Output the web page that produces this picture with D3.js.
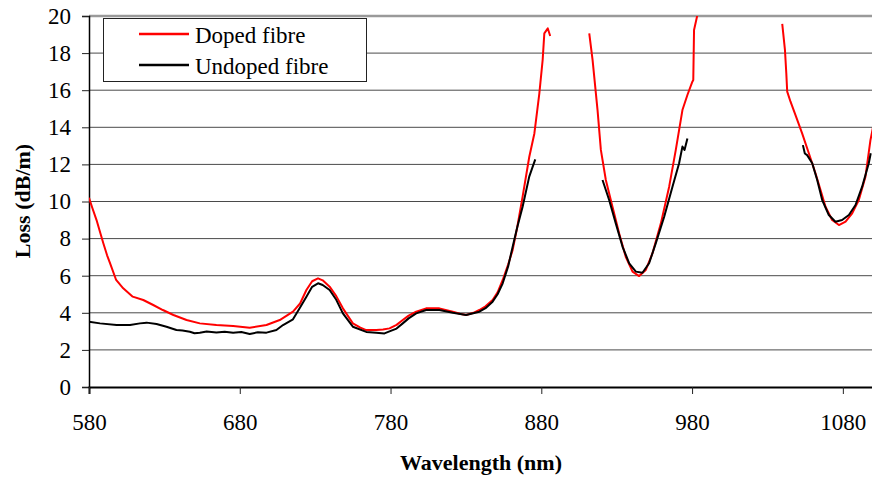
<!DOCTYPE html>
<html>
<head>
<meta charset="utf-8">
<script src="https://cdn.jsdelivr.net/npm/d3@7"></script>
<style>
  body { margin: 0; background: #fff; }
  svg text { font-family: "Liberation Serif", "Times New Roman", Times, serif !important; }
</style>
</head>
<body>
<div id="chart-area"></div>
<script>
// DATA (null = gap in the measured trace)
const dopedWl = [580, 582, 585, 587.5, 589.5, 592, 594, 598, 602.7, 609, 616, 622.6, 629, 636, 644.7, 653.5,
  664.5, 675.6, 686.6, 697.7, 706.5, 715.3, 720, 724.2, 728, 731.9, 735, 739.6, 744, 748.4, 755, 760,
  763.9, 770.5, 775, 779.3, 784, 788.1, 792, 797, 803.6, 812.4, 821.3, 826, 830.1, 835, 838.9, 843,
  847.7, 851, 854.4, 858, 861, 864, 867.6, 872, 875.4, 878.7, 880.9, 882, 884.3, 885.9,
  null,
  911.8, 914, 917.3, 919.5, 922.8, 927.2, 931.6, 936, 940.5, 944.9, 949.3, 953.7, 959.3, 964.8, 969.2,
  973.6, 976.9, 980.2, 980.8, 981.3, 983.5, 985,
  null,
  1039.8, 1041.6, 1042.5, 1043.1, 1045.3, 1048.6, 1053, 1057.5, 1061.9, 1065.2, 1068.5, 1072.9, 1077.4,
  1081.8, 1086.2, 1090.6, 1095, 1098.3, 1100]
const dopedLoss = [10.2, 9.7, 9.0, 8.3, 7.75, 7.1, 6.67, 5.77, 5.32, 4.87, 4.69, 4.42, 4.15, 3.88, 3.61, 3.43,
  3.34, 3.29, 3.2, 3.34, 3.61, 4.06, 4.5, 5.23, 5.7, 5.86, 5.75, 5.41, 4.9, 4.24, 3.43, 3.2,
  3.07, 3.07, 3.1, 3.16, 3.35, 3.61, 3.85, 4.06, 4.24, 4.24, 4.06, 3.95, 3.88, 4.0, 4.15, 4.35,
  4.69, 5.1, 5.77, 6.6, 7.39, 8.6, 10.26, 12.4, 13.67, 15.83, 17.63, 19.06, 19.33, 18.92,
  null,
  19.06, 17.63, 14.93, 12.78, 11.16, 9.72, 8.29, 7.02, 6.22, 5.98, 6.31, 7.2, 8.82, 10.8, 12.78,
  14.93, 15.74, 16.46, 16.55, 19.25, 20.05, 21,
  null,
  19.57, 18.17, 16.91, 15.92, 15.38, 14.66, 13.67, 12.59, 11.51, 10.62, 9.72, 9.0, 8.73,
  8.91, 9.36, 10.08, 11.34, 13.31, 14.0]

const undopedWl = [580, 587.3, 598.3, 607.2, 613.8, 618.2, 624.8, 631.4, 638, 642, 646.9, 650, 653.5, 658, 664.5,
  670, 675.6, 681, 686.6, 692, 697.7, 704.3, 708.7, 715.3, 719.7, 724.2, 728, 731.9, 735, 739.6, 744,
  748.4, 755, 763.9, 770.5, 776, 779.3, 784, 788.1, 792, 797, 803.6, 812.4, 821.3, 830.1, 838.9, 843,
  847.7, 851, 854.4, 858, 861, 864, 867.6, 872, 874.3, 876,
  null,
  920.6, 925, 929.4, 933.9, 938.3, 942.7, 947.1, 951.5, 955.9, 961.5, 967, 971.4, 973.6, 975, 976.9,
  null,
  1053.5, 1054.8, 1056.3, 1059.7, 1063, 1066.3, 1070.7, 1075.1, 1079.5, 1084, 1088.4, 1092.8, 1097.2, 1098.5]
const undopedLoss = [3.52, 3.43, 3.34, 3.34, 3.43, 3.47, 3.40, 3.25, 3.07, 3.05, 2.98, 2.9, 2.93, 2.99, 2.94,
  2.98, 2.93, 2.97, 2.86, 2.95, 2.93, 3.07, 3.34, 3.65, 4.24, 4.87, 5.4, 5.59, 5.5, 5.23, 4.7,
  3.97, 3.25, 2.97, 2.93, 2.89, 3.0, 3.15, 3.43, 3.7, 3.97, 4.15, 4.15, 4.0, 3.88, 4.06, 4.25,
  4.6, 5.0, 5.59, 6.5, 7.56, 8.6, 9.72, 11.34, 11.88, 12.27,
  null,
  11.16, 10.08, 8.82, 7.56, 6.67, 6.22, 6.16, 6.67, 7.74, 9.18, 10.8, 12.06, 12.96, 12.78, 13.4,
  null,
  13.04, 12.59, 12.5, 12.06, 11.16, 10.08, 9.27, 8.91, 9.0, 9.27, 9.81, 10.8, 12.06, 12.6]

const xTicks = [580, 680, 780, 880, 980, 1080]
const yTicks = [0, 2, 4, 6, 8, 10, 12, 14, 16, 18, 20]
const seriesNames = ['Doped fibre', 'Undoped fibre']
const seriesColors = ['#ff0000', '#000000']

// SVG
const W = 872, H = 477
const mLeft = 89, mRight = 873, mTop = 16, mBottom = 387

const svg = d3.select('#chart-area')
              .append('svg')
              .attr('width', W)
              .attr('height', H)

const x = d3.scaleLinear().domain([580, 1100]).range([mLeft, mRight])
const y = d3.scaleLinear().domain([0, 20]).range([mBottom, mTop])

// GRID
svg.append('g')
   .selectAll('line')
   .data(yTicks.filter(d => d > 0 && d < 20))
   .enter()
   .append('line')
   .attr('x1', mLeft).attr('x2', W)
   .attr('y1', d => y(d)).attr('y2', d => y(d))
   .attr('stroke', '#4a4a4a')
   .attr('stroke-width', 1)

// top border of plot area
svg.append('line')
   .attr('x1', mLeft).attr('x2', W)
   .attr('y1', y(20)).attr('y2', y(20))
   .attr('stroke', '#9a9a9a')
   .attr('stroke-width', 2.5)

// AXES
const yAxis = svg.append('g')
   .attr('transform', `translate(${mLeft},0)`)
   .call(d3.axisLeft(y).tickValues(yTicks).tickSize(7).tickPadding(11).tickFormat(d3.format('d')))
yAxis.select('.domain').attr('stroke', '#000').attr('stroke-width', 1.5)
yAxis.selectAll('.tick line').attr('stroke', '#222')
yAxis.selectAll('text').attr('font-size', 23).attr('fill', '#000')

const xAxis = svg.append('g')
   .attr('transform', `translate(0,${mBottom})`)
   .call(d3.axisBottom(x).tickValues(xTicks).tickSize(7).tickPadding(20).tickFormat(d3.format('d')))
xAxis.select('.domain').attr('stroke', '#000').attr('stroke-width', 2)
xAxis.selectAll('.tick line').attr('stroke', '#222')
xAxis.selectAll('text').attr('font-size', 23).attr('fill', '#000')

// LINES
svg.append('clipPath').attr('id', 'plot-clip')
   .append('rect')
   .attr('x', mLeft).attr('y', mTop)
   .attr('width', mRight - mLeft).attr('height', mBottom - mTop)

const line = d3.line()
   .defined(d => d[1] !== null)
   .x(d => x(d[0]))
   .y(d => y(d[1]))

const series = [
  dopedWl.map((w, i) => [w, dopedLoss[i]]),
  undopedWl.map((w, i) => [w, undopedLoss[i]])
]

svg.append('g')
   .attr('clip-path', 'url(#plot-clip)')
   .selectAll('path')
   .data(series)
   .enter()
   .append('path')
   .attr('d', line)
   .attr('fill', 'none')
   .attr('stroke', (d, i) => seriesColors[i])
   .attr('stroke-width', 2)
   .attr('stroke-linejoin', 'round')

// LEGEND
const legend = svg.append('g')
legend.append('rect')
   .attr('x', 103.5).attr('y', 18.5)
   .attr('width', 263).attr('height', 63)
   .attr('fill', '#fff')
   .attr('stroke', '#222')
   .attr('stroke-width', 1)

seriesNames.forEach((name, i) => {
  const ly = 34 + i * 31
  legend.append('line')
     .attr('x1', 139).attr('x2', 189)
     .attr('y1', ly).attr('y2', ly)
     .attr('stroke', seriesColors[i])
     .attr('stroke-width', 2.5)
  legend.append('text')
     .attr('x', 195).attr('y', ly + 9)
     .attr('font-size', 23)
     .text(name)
})

// AXIS TITLES
svg.append('text')
   .attr('x', (mLeft + mRight) / 2)
   .attr('y', 470)
   .attr('text-anchor', 'middle')
   .attr('font-size', 22)
   .attr('font-weight', 'bold')
   .text('Wavelength (nm)')

svg.append('text')
   .attr('transform', 'translate(30,201) rotate(-90)')
   .attr('text-anchor', 'middle')
   .attr('font-size', 22)
   .attr('font-weight', 'bold')
   .text('Loss (dB/m)')
</script>
</body>
</html>
